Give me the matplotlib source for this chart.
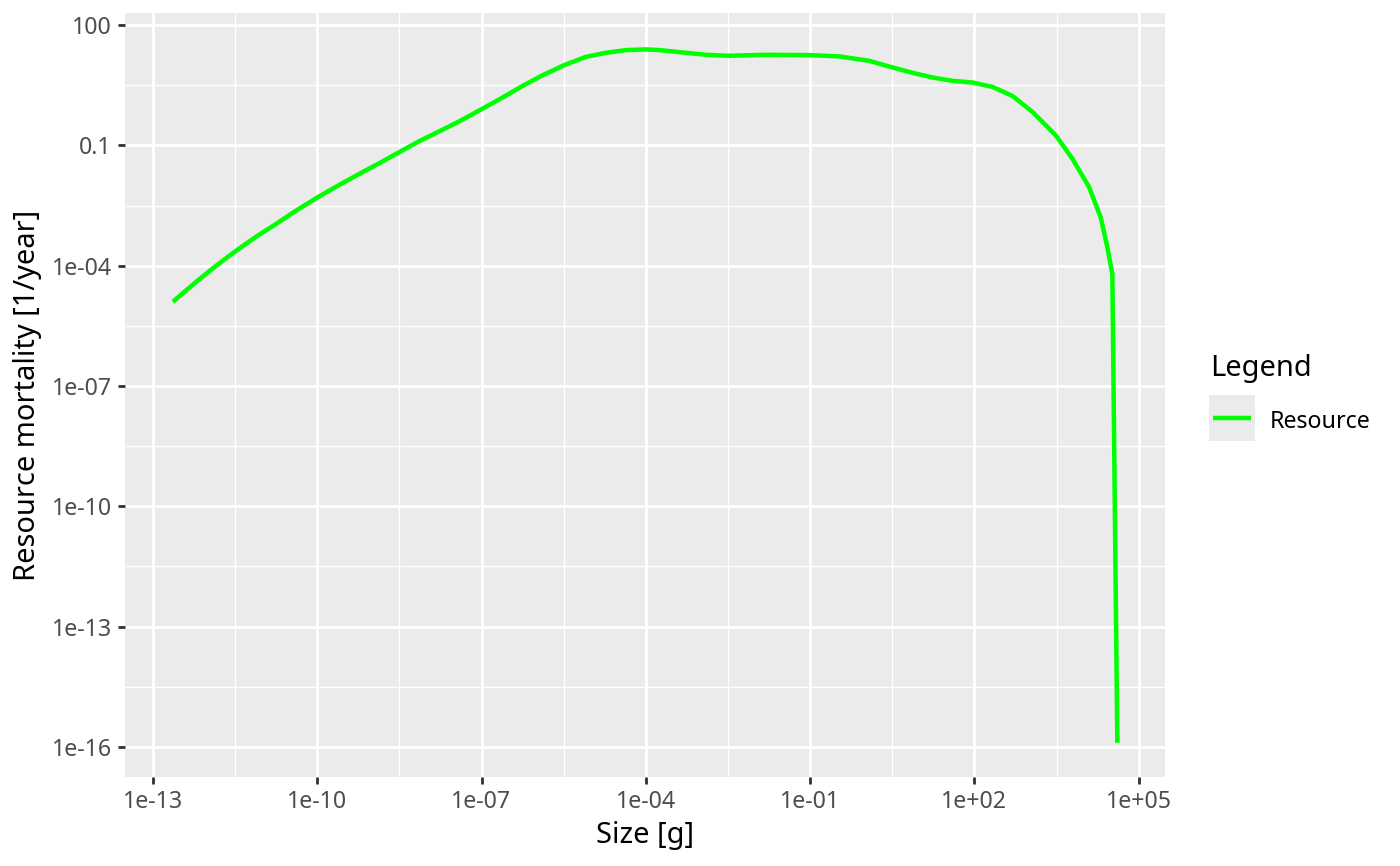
import matplotlib
matplotlib.use("Agg")
import matplotlib.pyplot as plt
from matplotlib.patches import Rectangle
from matplotlib.lines import Line2D
import numpy as np

# ---- data ----
size_g = [2.32e-13, 4.11e-13, 7.11e-13, 1.43e-12, 3.32e-12, 7.69e-12, 1.78e-11, 4.13e-11,
          1.03e-10, 2.55e-10, 5.92e-10, 1.37e-9, 3.17e-9, 7.35e-9, 1.70e-8, 3.94e-8,
          1.05e-7, 2.43e-7, 5.64e-7, 1.31e-6, 3.24e-6, 8.05e-6, 1.87e-5, 4.33e-5,
          1.02e-4, 1.77e-4, 4.72e-4, 1.26e-3, 3.13e-3, 1.56e-2, 9.66e-2, 0.340,
          1.20, 3.20, 7.41, 17.2, 39.8, 92.0, 213, 494,
          1.15e3, 3.05e3, 6.15e3, 1.24e4, 2.02e4, 2.68e4, 3.30e4, 4.07e4]
mortality = [1.26e-5, 2.47e-5, 4.65e-5, 1.0e-4, 2.37e-4, 5.31e-4, 1.10e-3, 2.37e-3,
             5.11e-3, 1.04e-2, 1.96e-2, 3.61e-2, 6.81e-2, 0.128, 0.224, 0.398,
             0.826, 1.56, 3.04, 5.62, 10.0, 16.1, 20.3, 23.7,
             24.7, 23.7, 20.7, 18.1, 17.1, 18.1, 17.8, 16.5,
             12.8, 8.75, 6.43, 4.92, 4.06, 3.69, 2.87, 1.71,
             0.681, 0.178, 4.65e-2, 9.08e-3, 1.61e-3, 2.87e-4, 6.19e-5, 1.26e-16]
x_ticks = [1e-13, 1e-10, 1e-7, 1e-4, 1e-1, 1e2, 1e5]
x_labels = ["1e-13", "1e-10", "1e-07", "1e-04", "1e-01", "1e+02", "1e+05"]
y_ticks = [1e-16, 1e-13, 1e-10, 1e-7, 1e-4, 0.1, 100]
y_labels = ["1e-16", "1e-13", "1e-10", "1e-07", "1e-04", "0.1", "100"]
series_name = "Resource"
legend_title = "Legend"

plt.rcParams['font.family'] = ['Noto Sans', 'DejaVu Sans']

W, H, DPI = 1400, 866, 190
fig = plt.figure(figsize=(W / DPI, H / DPI), dpi=DPI)
ax = fig.add_axes([125 / W, 1 - 777 / H, (1165 - 125) / W, (777 - 13) / H])
ax.set_facecolor("#EBEBEB")
ax.set_xscale("log")
ax.set_yscale("log")
ax.set_xlim(10 ** -13.51, 10 ** 5.48)
ax.set_ylim(10 ** -16.75, 10 ** 2.30)

# minor grid (half way between major breaks in log space)
xminor = [10 ** (np.log10(t) + 1.5) for t in x_ticks[:-1]] + [10 ** (np.log10(x_ticks[0]) - 1.5), 10 ** (np.log10(x_ticks[-1]) + 1.5)]
yminor = [10 ** (np.log10(t) + 1.5) for t in y_ticks[:-1]] + [10 ** (np.log10(y_ticks[0]) - 1.5), 10 ** (np.log10(y_ticks[-1]) + 1.5)]
for v in xminor:
    ax.axvline(v, color="white", lw=0.53, zorder=0.5)
for v in yminor:
    ax.axhline(v, color="white", lw=0.53, zorder=0.5)
for v in x_ticks:
    ax.axvline(v, color="white", lw=1.07, zorder=0.6)
for v in y_ticks:
    ax.axhline(v, color="white", lw=1.07, zorder=0.6)

ax.plot(size_g, mortality, color="#00FF00", lw=1.7, solid_capstyle="butt",
        solid_joinstyle="round", zorder=2)

ax.xaxis.set_minor_locator(matplotlib.ticker.NullLocator())
ax.yaxis.set_minor_locator(matplotlib.ticker.NullLocator())
ax.set_xticks(x_ticks)
ax.set_xticklabels(x_labels)
ax.set_yticks(y_ticks)
ax.set_yticklabels(y_labels)
ax.tick_params(axis="both", which="major", length=2.75, width=1.07, color="#333333",
               labelsize=8.8, labelcolor="#4D4D4D", pad=2.2)
for s in ax.spines.values():
    s.set_visible(False)

ax.set_xlabel("Size [g]", fontsize=11, color="black", labelpad=2.75)
ax.set_ylabel("Resource mortality [1/year]", fontsize=11, color="black", labelpad=3.5)

# legend (ggplot style)
fig.text(1210 / W, 1 - 376 / H, legend_title, fontsize=11, color="black", va="baseline", ha="left")
kx0, ky0, kx1, ky1 = 1209, 395, 1255, 441
fig.patches.append(Rectangle((kx0 / W, 1 - ky1 / H), (kx1 - kx0) / W, (ky1 - ky0) / H,
                             transform=fig.transFigure, facecolor="#EBEBEB", edgecolor="none"))
ym = 1 - 418 / H
fig.lines.append(Line2D([1213 / W, 1251 / W], [ym, ym], transform=fig.transFigure,
                        color="#00FF00", lw=1.7, solid_capstyle="butt"))
fig.text(1270 / W, 1 - 427.5 / H, series_name, fontsize=8.8, color="black", va="baseline", ha="left")

fig.savefig("out.png", dpi=DPI)
